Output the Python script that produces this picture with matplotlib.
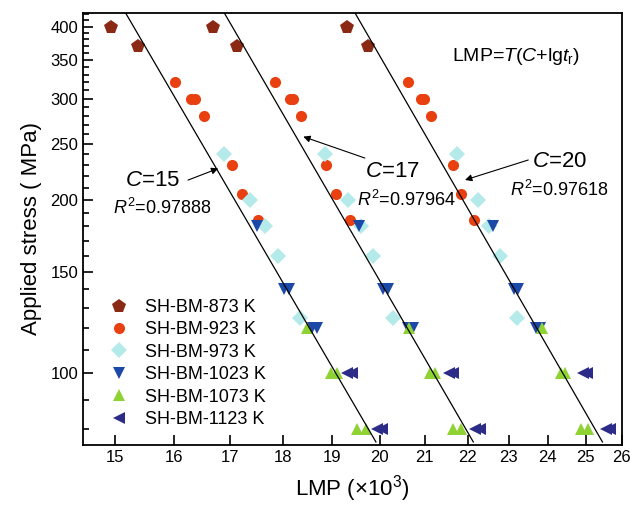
import numpy as np
import matplotlib
matplotlib.use("Agg")
import matplotlib.pyplot as plt
from matplotlib.ticker import FixedLocator, NullLocator, FixedFormatter

plt.rcParams['font.family'] = ['Liberation Sans', 'DejaVu Sans']
plt.rcParams['mathtext.fontset'] = 'custom'
plt.rcParams['mathtext.rm'] = 'Liberation Sans'
plt.rcParams['mathtext.it'] = 'Liberation Sans:italic'

# test temperatures (K), stresses (MPa) and lg(t_r)
temps = [873, 923, 973, 1023, 1073, 1123]
labels = ['SH-BM-873 K', 'SH-BM-923 K', 'SH-BM-973 K',
          'SH-BM-1023 K', 'SH-BM-1073 K', 'SH-BM-1123 K']
stress_873 = [400, 370]
lgt_873 = [2.11, 2.63]
stress_923 = [320, 300, 300, 280, 230, 205, 185]
lgt_923 = [2.35, 2.65, 2.73, 2.90, 3.45, 3.67, 3.99]
stress_973 = [240, 200, 180, 160, 125]
lgt_973 = [2.36, 2.86, 3.15, 3.41, 3.85]
stress_1023 = [180, 140, 140, 120, 120]
lgt_1023 = [2.11, 2.62, 2.72, 3.16, 3.27]
stress_1073 = [120, 100, 100, 80, 80]
lgt_1073 = [2.23, 2.68, 2.79, 3.19, 3.36]
stress_1123 = [100, 100, 80, 80]
lgt_1123 = [2.19, 2.29, 2.75, 2.86]

c_values = [15, 17, 20]
r2_text = ['0.97888', '0.97964', '0.97618']

stresses = [stress_873, stress_923, stress_973, stress_1023, stress_1073, stress_1123]
lgts = [lgt_873, lgt_923, lgt_973, lgt_1023, lgt_1073, lgt_1123]
markers = ['p', 'o', 'D', 'v', '^', '<']
sizes = [10, 8, 8, 9, 9, 9]
colors = ['#8b2a14', '#e84010', '#b4eaea', '#1c48a8', '#8ed234', '#2c2c88']

fig = plt.figure(figsize=(6.3, 5.07), dpi=100)
ax = fig.add_axes([0.1322, 0.1217, 0.8546, 0.8533])

for C in c_values:
    all_x, all_y = [], []
    for i, T in enumerate(temps):
        lmp = T * (C + np.array(lgts[i])) / 1000.0
        ax.plot(lmp, stresses[i], linestyle='none', marker=markers[i],
                ms=sizes[i], mfc=colors[i], mec=colors[i], mew=0,
                label=labels[i] if C == 15 else None, zorder=3)
        all_x.extend(lmp)
        all_y.extend(np.log10(stresses[i]))
    # linear fit LMP vs lg(stress), drawn across the plot
    a, b = np.polyfit(all_y, all_x, 1)
    ys = np.array([76, 460])
    ax.plot(a * np.log10(ys) + b, ys, color='black', lw=0.9, zorder=4)

ax.set_xscale('log')
ax.set_yscale('log')
ax.set_xlim(14.5, 26)
ax.set_ylim(75, 423)

xt = list(range(15, 27))
ax.xaxis.set_major_locator(FixedLocator(xt))
ax.xaxis.set_major_formatter(FixedFormatter([str(v) for v in xt]))
ax.xaxis.set_minor_locator(NullLocator())
yt = [100, 150, 200, 250, 300, 350, 400]
ax.yaxis.set_major_locator(FixedLocator(yt))
ax.yaxis.set_major_formatter(FixedFormatter([str(v) for v in yt]))
ax.yaxis.set_minor_locator(FixedLocator([v for v in range(80, 430, 10) if v not in yt]))
ax.yaxis.set_minor_formatter(FixedFormatter([]))

ax.tick_params(which='both', direction='in', top=False, right=False, labelsize=12, width=1.2)
ax.tick_params(which='major', length=7)
ax.tick_params(which='minor', length=4)
for s in ax.spines.values():
    s.set_linewidth(1.3)

ax.set_xlabel(r'LMP (×10$^3$)', fontsize=16, labelpad=6)
ax.set_ylabel('Applied stress ( MPa)', fontsize=16, labelpad=6)

ax.text(0.684, 0.898, r'LMP=$T$($C$+lg$t_\mathrm{r}$)', transform=ax.transAxes,
        fontsize=14, ha='left', va='center')
c_pos = [(0.0775, 0.613), (0.523, 0.632), (0.833, 0.656)]
r_pos = [(0.0552, 0.548), (0.508, 0.567), (0.792, 0.590)]
tails = [(0.1945, 0.613), (0.523, 0.664), (0.8265, 0.6595)]
heads = [(0.2507, 0.640), (0.4086, 0.7134), (0.709, 0.6133)]
for k, C in enumerate(c_values):
    ax.text(*c_pos[k], r'$C$=%d' % C, transform=ax.transAxes, fontsize=16,
            ha='left', va='center')
    ax.text(*r_pos[k], r'$R^2$=' + r2_text[k], transform=ax.transAxes,
            fontsize=13, ha='left', va='center')
    ax.annotate('', xy=heads[k], xytext=tails[k], xycoords='axes fraction',
                textcoords='axes fraction',
                arrowprops=dict(arrowstyle='-|>', color='black', lw=0.8,
                                mutation_scale=10, shrinkA=0, shrinkB=0))

ax.legend(loc='lower left', bbox_to_anchor=(0.05, 0.04), frameon=False,
          fontsize=13, handlelength=1.0, handletextpad=0.93, labelspacing=0.30,
          borderpad=0, borderaxespad=0)

fig.savefig('out.png', dpi=100)
